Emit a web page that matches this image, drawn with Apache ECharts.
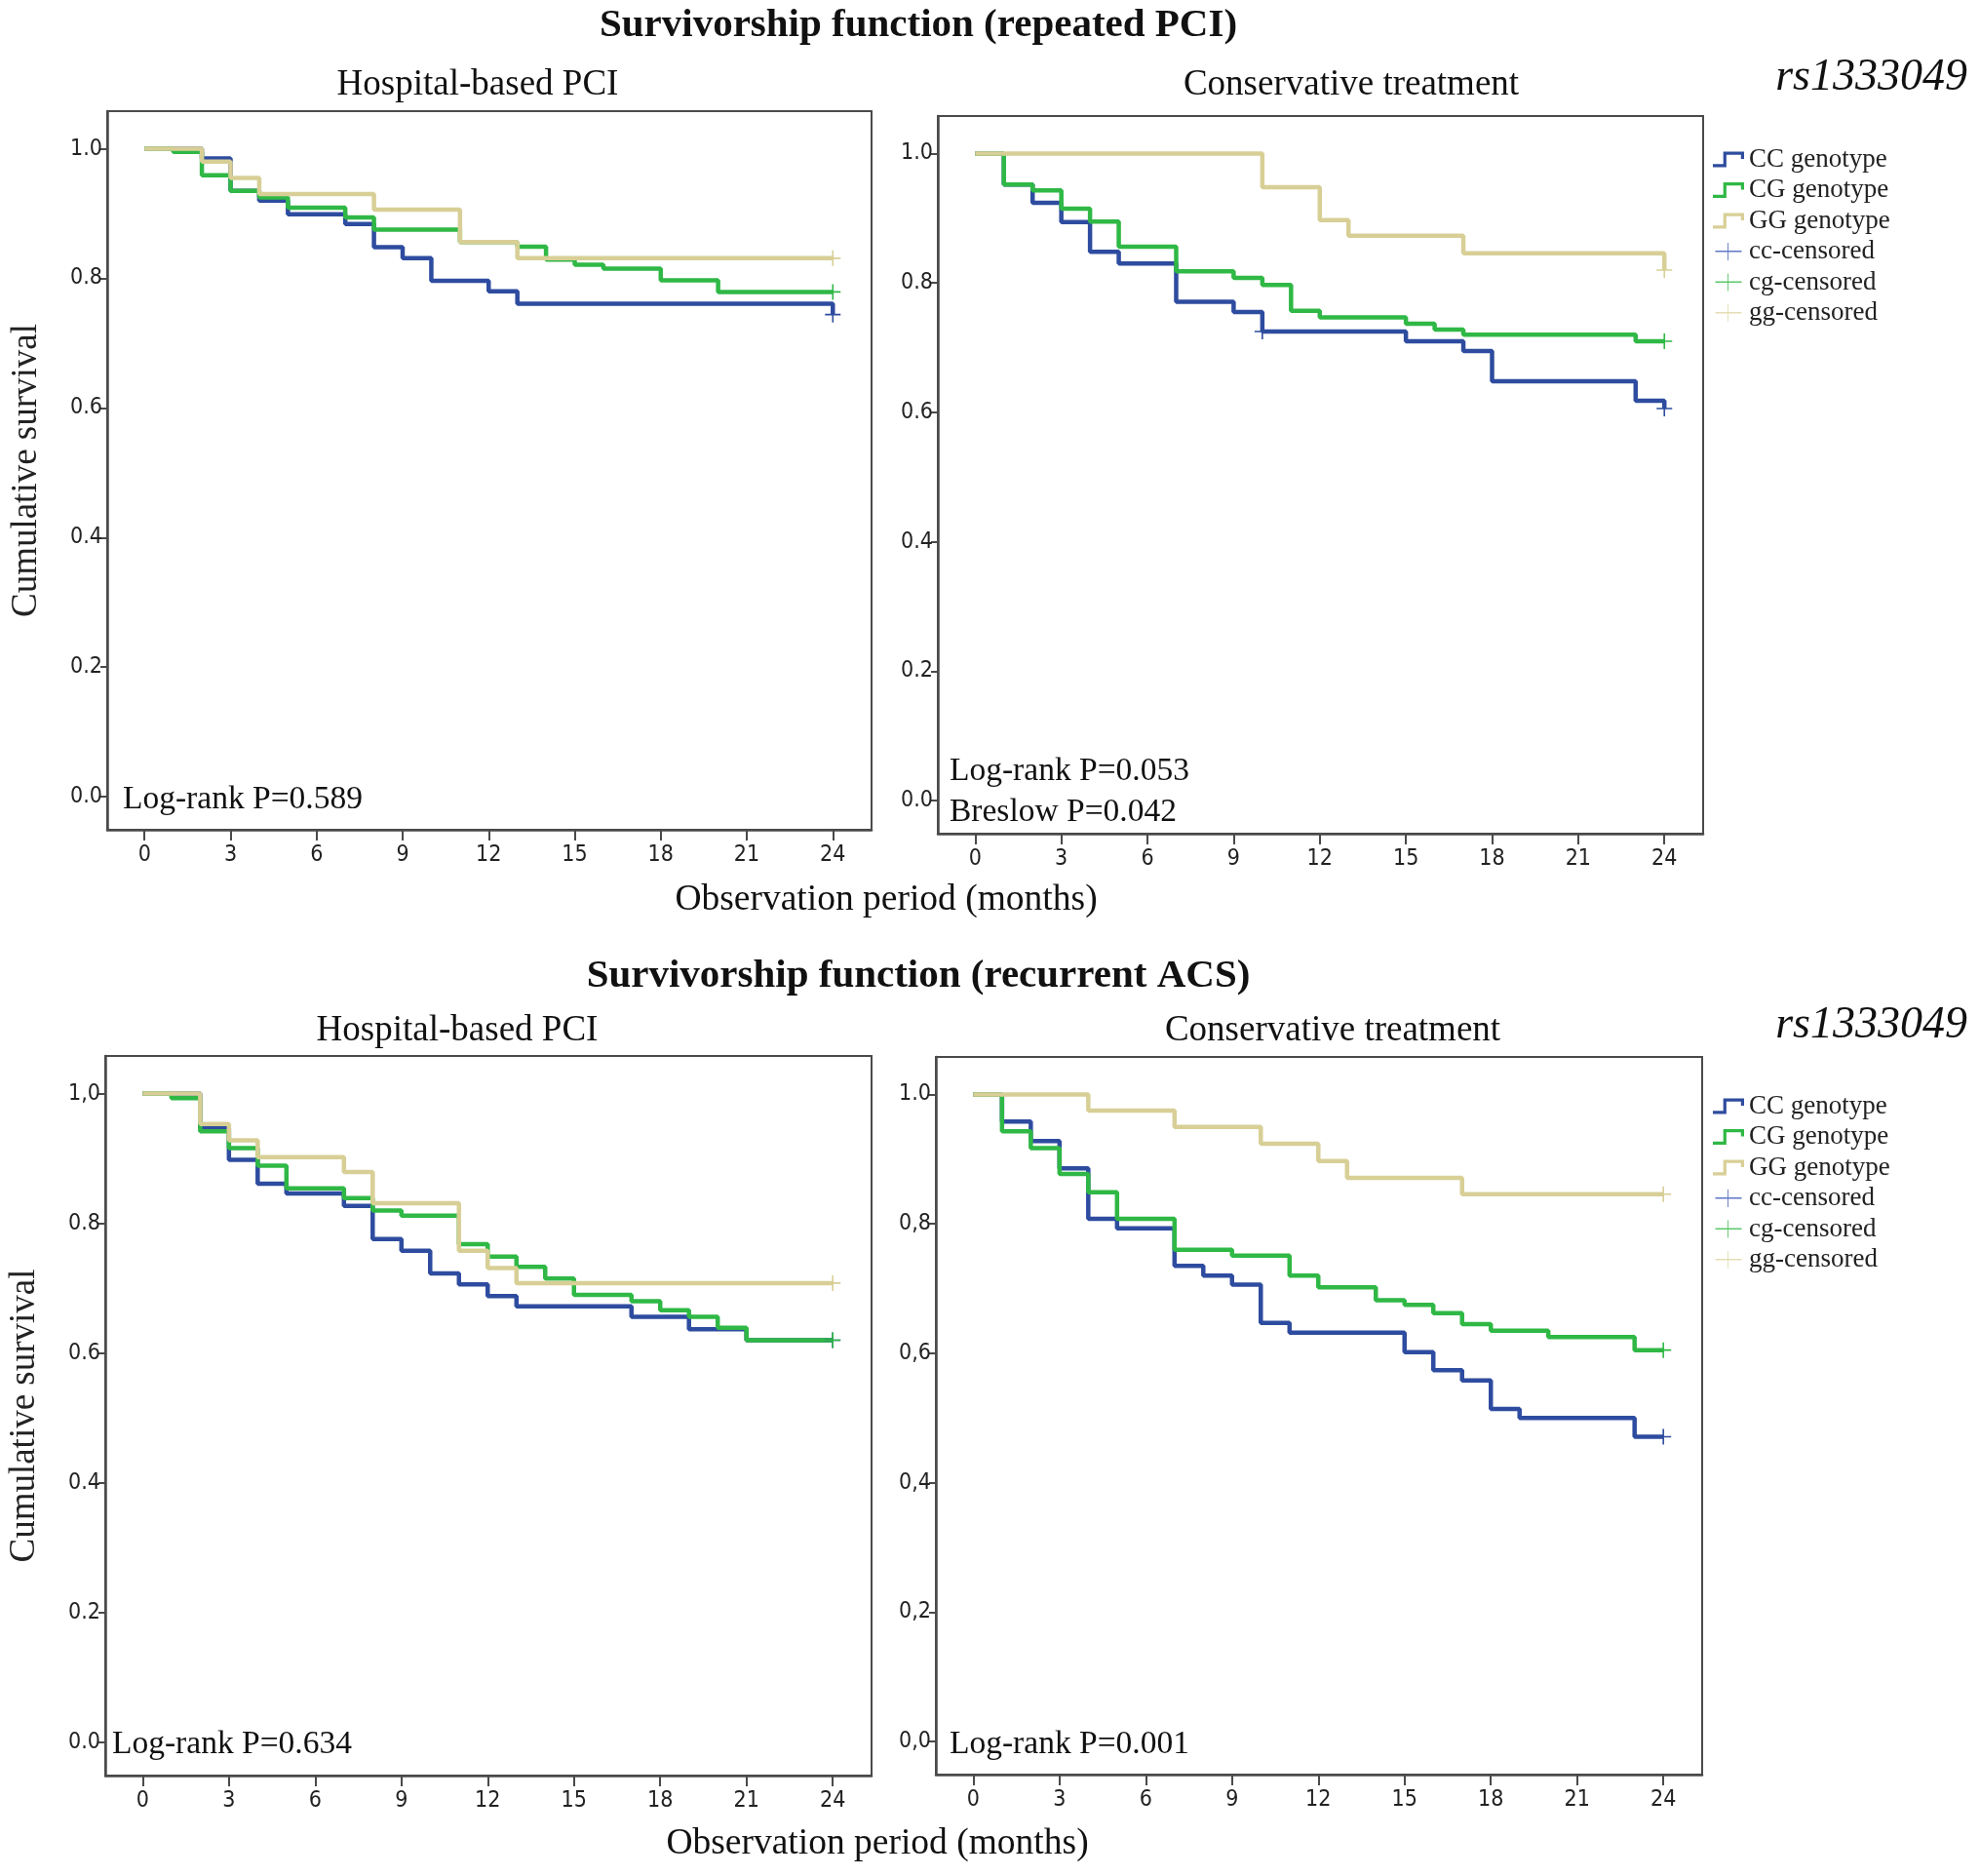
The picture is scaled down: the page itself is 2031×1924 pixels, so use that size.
<!DOCTYPE html>
<html><head><meta charset="utf-8">
<script src="https://cdn.jsdelivr.net/npm/echarts@6/dist/echarts.min.js"></script>
<style>html,body{margin:0;padding:0;background:#fff}#c{width:2031px;height:1924px}</style>
</head><body><div id="c"></div>
<script>
// ---------- DATA ----------
const xTickValues = [0,3,6,9,12,15,18,21,24];
const yTickValues = [0,0.2,0.4,0.6,0.8,1.0];
const yLabelsA = ['0.0','0.2','0.4','0.6','0.8','1.0'];
const yLabelsB = ['0.0','0.2','0.4','0.6','0.8','1.0'];
const yLabelsC = ['0.0','0.2','0.4','0.6','0.8','1,0'];
const yLabelsD = ['0,0','0,2','0,4','0,6','0,8','1.0'];

const groupNames = ['CC genotype','CG genotype','GG genotype'];
const censorNames = ['cc-censored','cg-censored','gg-censored'];

// Panel A: repeated PCI, hospital-based PCI
const A_CC_t = [0,2,3,4,5,7,8,9,10,12,13,24];
const A_CC_s = [1.000,0.985,0.935,0.920,0.899,0.884,0.848,0.831,0.796,0.780,0.761,0.744];
const A_CG_t = [0,1,2,3,4,5,7,8,11,13,14,15,16,18,20,24];
const A_CG_s = [1.000,0.995,0.959,0.935,0.925,0.909,0.894,0.875,0.856,0.849,0.829,0.821,0.815,0.797,0.779,0.779];
const A_GG_t = [0,2,3,4,8,11,13,24];
const A_GG_s = [1.000,0.980,0.955,0.930,0.906,0.856,0.831,0.831];
const A_CC_cens = [[24,0.744]];
const A_CG_cens = [[24,0.779]];
const A_GG_cens = [[24,0.831]];

// Panel B: repeated PCI, conservative treatment
const B_CC_t = [0,1,2,3,4,5,7,9,10,15,17,18,23,24];
const B_CC_s = [1.000,0.952,0.924,0.894,0.848,0.830,0.771,0.755,0.725,0.710,0.695,0.648,0.618,0.606];
const B_CG_t = [0,1,2,3,4,5,7,9,10,11,12,15,16,17,23,24];
const B_CG_s = [1.000,0.952,0.943,0.915,0.895,0.856,0.818,0.808,0.797,0.757,0.747,0.737,0.728,0.720,0.710,0.710];
const B_GG_t = [0,10,12,13,17,24];
const B_GG_s = [1.000,0.948,0.897,0.873,0.846,0.820];
const B_CC_cens = [[10,0.725],[24,0.606]];
const B_CG_cens = [[24,0.710]];
const B_GG_cens = [[24,0.820]];

// Panel C: recurrent ACS, hospital-based PCI
const C_CC_t = [0,2,3,4,5,7,8,9,10,11,12,13,17,19,21,24];
const C_CC_s = [1.000,0.947,0.898,0.861,0.846,0.827,0.776,0.758,0.723,0.706,0.688,0.672,0.656,0.637,0.620,0.620];
const C_CG_t = [0,1,2,3,4,5,7,8,9,11,12,13,14,15,17,18,19,20,21,24];
const C_CG_s = [1.000,0.993,0.942,0.916,0.889,0.854,0.839,0.820,0.812,0.768,0.749,0.733,0.715,0.690,0.680,0.666,0.656,0.639,0.620,0.620];
const C_GG_t = [0,2,3,4,7,8,11,12,13,24];
const C_GG_s = [1.000,0.953,0.928,0.902,0.879,0.831,0.758,0.731,0.708,0.708];
const C_CC_cens = [[24,0.620]];
const C_CG_cens = [[24,0.620]];
const C_GG_cens = [[24,0.708]];

// Panel D: recurrent ACS, conservative treatment
const D_CC_t = [0,1,2,3,4,5,7,8,9,10,11,15,16,17,18,19,23,24];
const D_CC_s = [1.000,0.958,0.928,0.886,0.808,0.793,0.735,0.720,0.706,0.647,0.632,0.602,0.574,0.558,0.514,0.500,0.471,0.471];
const D_CG_t = [0,1,2,3,4,5,7,9,11,12,14,15,16,17,18,20,23,24];
const D_CG_s = [1.000,0.943,0.917,0.877,0.849,0.808,0.760,0.751,0.720,0.702,0.682,0.675,0.662,0.645,0.635,0.625,0.605,0.605];
const D_GG_t = [0,4,7,10,12,13,17,24];
const D_GG_s = [1.000,0.975,0.950,0.924,0.897,0.871,0.846,0.846];
const D_CC_cens = [[24,0.471]];
const D_CG_cens = [[24,0.605]];
const D_GG_cens = [[24,0.846]];

// ---------- STYLE / LAYOUT ----------
const colors = ['#2e4c9f','#2fb845','#d8cf96'];
const censColors = ['#5f78c4','#5cc86c','#e4ddb5'];
const serif = '"Liberation Serif","Times New Roman",serif';
const narrow = '"Liberation Sans Narrow","DejaVu Sans Condensed","Arial Narrow",sans-serif';

const panels = [
  {grid:{left:110,top:114,width:784,height:737}, labels:yLabelsA, ytitle:true,
   lines:[[A_CC_t,A_CC_s],[A_CG_t,A_CG_s],[A_GG_t,A_GG_s]], cens:[A_CC_cens,A_CG_cens,A_GG_cens]},
  {grid:{left:962,top:119,width:785,height:736}, labels:yLabelsB, ytitle:false,
   lines:[[B_CC_t,B_CC_s],[B_CG_t,B_CG_s],[B_GG_t,B_GG_s]], cens:[B_CC_cens,B_CG_cens,B_GG_cens]},
  {grid:{left:108,top:1083,width:786,height:738}, labels:yLabelsC, ytitle:true,
   lines:[[C_CC_t,C_CC_s],[C_CG_t,C_CG_s],[C_GG_t,C_GG_s]], cens:[C_CC_cens,C_CG_cens,C_GG_cens]},
  {grid:{left:960,top:1084,width:786,height:736}, labels:yLabelsD, ytitle:false,
   lines:[[D_CC_t,D_CC_s],[D_CG_t,D_CG_s],[D_GG_t,D_GG_s]], cens:[D_CC_cens,D_CG_cens,D_GG_cens]}
];

const plusPath = 'path://M9,0 L11,0 L11,9 L20,9 L20,11 L11,11 L11,20 L9,20 L9,11 L0,11 L0,9 L9,9 Z';
const stepPath = 'path://M0,14 L10,14 L10,2 L30,2 L30,9 L27,9 L27,5 L13,5 L13,17 L0,17 Z';
const legendPlus = 'path://M14,0 L15,0 L15,9 L30,9 L30,10.5 L15,10.5 L15,20 L14,20 L14,10.5 L0,10.5 L0,9 L14,9 Z';

const grids = [], xAxes = [], yAxes = [], series = [];
panels.forEach((p, i) => {
  grids.push(Object.assign({show:true, borderColor:'#4a4a4a', borderWidth:2, backgroundColor:'#fff', containLabel:false, outerBoundsMode:'none'}, p.grid));
  xAxes.push({
    type:'value', gridIndex:i, min:-1.3, max:25.35,
    axisLine:{show:true, onZero:false, lineStyle:{color:'#4a4a4a', width:2.5}},
    axisTick:{show:true, customValues:xTickValues, length:11, lineStyle:{color:'#4a4a4a', width:2}},
    axisLabel:{show:true, customValues:xTickValues, margin:15, fontFamily:narrow, fontSize:23, color:'#222'},
    splitLine:{show:false}
  });
  const labs = p.labels;
  yAxes.push({
    type:'value', gridIndex:i, min:-0.051, max:1.058,
    name: p.ytitle ? 'Cumulative survival' : '', nameLocation:'middle', nameGap:64, nameRotate:90,
    nameTextStyle:{fontFamily:serif, fontSize:37, color:'#222'},
    axisLine:{show:true, onZero:false, lineStyle:{color:'#4a4a4a', width:2.5}},
    axisTick:{show:true, customValues:yTickValues, length:7, lineStyle:{color:'#4a4a4a', width:2}},
    axisLabel:{show:true, customValues:yTickValues, margin:5, fontFamily:narrow, fontSize:23, color:'#222',
      formatter:(v)=>labs[Math.round(v*5)]},
    splitLine:{show:false}
  });
  p.lines.forEach((ln, k) => {
    series.push({
      type:'line', name:groupNames[k], xAxisIndex:i, yAxisIndex:i, step:'end',
      data: ln[0].map((t,j)=>[t, ln[1][j]]),
      showSymbol:false, symbol:'none', lineStyle:{color:colors[k], width:4.5}, itemStyle:{color:colors[k]},
      z: 2 + k, silent:true
    });
  });
  p.cens.forEach((c, k) => {
    series.push({
      type:'scatter', name:censorNames[k], xAxisIndex:i, yAxisIndex:i,
      data:c, symbol:plusPath, symbolSize:16,
      itemStyle:{color:colors[k], opacity:1}, z:6, silent:true
    });
  });
});

function legendAt(top){
  return {
    orient:'vertical', left:1752, top:top, itemWidth:32, itemHeight:18, itemGap:4.5,
    textStyle:{fontFamily:serif, fontSize:27, color:'#222', lineHeight:26},
    selectedMode:false,
    data:[
      {name:groupNames[0], icon:stepPath, itemStyle:{color:colors[0]}},
      {name:groupNames[1], icon:stepPath, itemStyle:{color:colors[1]}},
      {name:groupNames[2], icon:stepPath, itemStyle:{color:colors[2]}},
      {name:censorNames[0], icon:legendPlus, itemStyle:{color:censColors[0]}},
      {name:censorNames[1], icon:legendPlus, itemStyle:{color:censColors[1]}},
      {name:censorNames[2], icon:legendPlus, itemStyle:{color:censColors[2]}}
    ]
  };
}

function txt(text, x, y, font, align, rot){
  return {type:'text', x:x, y:y, rotation:rot||0, z:100,
    style:{text:text, font:font, fill:'#111', align:align||'center', textAlign:align||'center',
      verticalAlign:'middle', textVerticalAlign:'middle'}};
}

const graphics = [
  txt('Survivorship function (repeated PCI)', 942, 26, 'bold 41px '+serif),
  txt('Hospital-based PCI', 490, 87, '37px '+serif),
  txt('Conservative treatment', 1386, 87, '37px '+serif),
  txt('rs1333049', 2018, 80, 'italic 46px '+serif, 'right'),
  txt('Observation period (months)', 909, 923, '37.5px '+serif),
  txt('Log-rank P=0.589', 126, 820, '33.5px '+serif, 'left'),
  txt('Log-rank P=0.053', 974, 791, '33.5px '+serif, 'left'),
  txt('Breslow P=0.042', 974, 833, '33.5px '+serif, 'left'),
  txt('Survivorship function (recurrent ACS)', 942, 1001, 'bold 41px '+serif),
  txt('Hospital-based PCI', 469, 1057, '37px '+serif),
  txt('Conservative treatment', 1367, 1057, '37px '+serif),
  txt('rs1333049', 2018, 1052, 'italic 46px '+serif, 'right'),
  txt('Observation period (months)', 900, 1891, '37.5px '+serif),
  txt('Log-rank P=0.634', 115, 1789, '33.5px '+serif, 'left'),
  txt('Log-rank P=0.001', 974, 1789, '33.5px '+serif, 'left')
];

const chart = echarts.init(document.getElementById('c'), null, {renderer:'canvas'});
chart.setOption({
  backgroundColor:'#fff', animation:false,
  grid:grids, xAxis:xAxes, yAxis:yAxes, series:series,
  legend:[legendAt(145), legendAt(1116)],
  graphic:graphics
});
</script></body></html>
